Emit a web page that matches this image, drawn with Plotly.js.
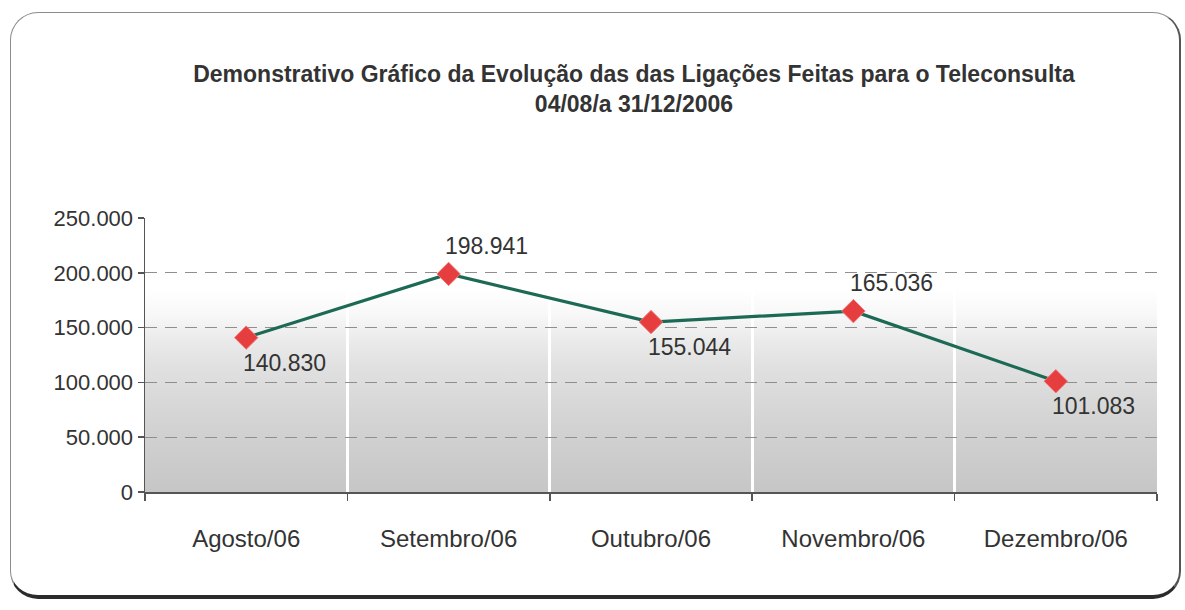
<!DOCTYPE html>
<html>
<head>
<meta charset="utf-8">
<script src="https://cdn.plot.ly/plotly-3.0.1.min.js"></script>
<style>
  html, body { margin: 0; padding: 0; background: #fff; }
  #page { position: relative; width: 1185px; height: 610px; overflow: hidden; }
  #frame {
    position: absolute; left: 10px; top: 12px; width: 1168px; height: 582px;
    border: 1.5px solid #8c8c8c; border-bottom: 4px solid #2b2b2b; border-right: 2px solid #555;
    border-radius: 28px; background: #fff;
  }
  #bg {
    position: absolute; left: 145px; top: 218px; width: 1012px; height: 274px;
    background: linear-gradient(to top, #c6c6c6 0%, #d3d3d3 25%, #e0e0e0 45%, #ebebeb 56%, #f7f7f7 64%, #ffffff 74%);
  }
  #chart { position: absolute; left: 0; top: 0; width: 1185px; height: 610px; }
</style>
</head>
<body>
<div id="page">
  <div id="frame"></div>
  <div id="bg"></div>
  <div id="chart"></div>
</div>
<script>
// meses e total de ligações
const months = ['Agosto/06', 'Setembro/06', 'Outubro/06', 'Novembro/06', 'Dezembro/06'];
const calls = [140830, 198941, 155044, 165036, 101083];
const labelSide = ['below', 'above', 'below', 'above', 'below'];
const gridVals = [50000, 100000, 150000, 200000];

const textFont = 'Liberation Sans, Arial, sans-serif';

const traces = [
  {
    type: 'scatter',
    mode: 'lines+markers',
    x: months,
    y: calls,
    line: { color: '#1c6a55', width: 3.2 },
    marker: { symbol: 'diamond', size: 18, color: '#e63d3f', line: { color: '#f27777', width: 1 } },
    cliponaxis: false,
    hoverinfo: 'x+y',
    showlegend: false
  },
  // eixo auxiliar só para as linhas tracejadas da grade
  { type: 'scatter', x: [], y: [], yaxis: 'y2', showlegend: false }
];

// rótulos de dados, deslocados como no Excel
const fmt = v => v.toString().replace(/\B(?=(\d{3})+(?!\d))/g, '.');
const annotations = months.map((m, i) => ({
  x: m,
  y: calls[i],
  xref: 'x',
  yref: 'y',
  text: fmt(calls[i]),
  showarrow: false,
  xshift: 38,
  yshift: labelSide[i] === 'above' ? 28 : -25,
  font: { family: textFont, size: 23, color: '#333' }
}));

const layout = {
  width: 1185,
  height: 610,
  paper_bgcolor: 'rgba(0,0,0,0)',
  plot_bgcolor: 'rgba(0,0,0,0)',
  separators: ',.',
  margin: { l: 145, r: 28, t: 218, b: 118 },
  font: { family: textFont, color: '#333' },
  title: {
    text: '<b>Demonstrativo Gráfico da Evolução das das Ligações Feitas para o Teleconsulta</b><br><b>04/08/a 31/12/2006</b>',
    font: { family: textFont, size: 23, color: '#333' },
    xref: 'container', x: 0.535, xanchor: 'center',
    yref: 'container', y: 0.865, yanchor: 'top'
  },
  annotations: annotations,
  xaxis: {
    type: 'category',
    range: [-0.5, 4.5],
    tickson: 'boundaries',
    ticks: 'outside', ticklen: 7, tickwidth: 1.5, tickcolor: '#555',
    showline: true, linecolor: '#555', linewidth: 1.5,
    showgrid: true, gridcolor: '#ffffff', gridwidth: 3,
    tickfont: { size: 24, color: '#333' },
    ticklabelstandoff: 25,
    fixedrange: true
  },
  yaxis: {
    range: [0, 250000],
    dtick: 50000,
    tickformat: ',d',
    ticks: 'outside', ticklen: 6, tickwidth: 1.5, tickcolor: '#555',
    showline: true, linecolor: '#555', linewidth: 1.5,
    showgrid: false, zeroline: false,
    tickfont: { size: 22, color: '#333' },
    fixedrange: true
  },
  yaxis2: {
    overlaying: 'y',
    range: [0, 250000],
    tickmode: 'array',
    tickvals: gridVals,
    showticklabels: false,
    showgrid: true, gridcolor: '#8f8f8f', gridwidth: 1, griddash: '12px,8px',
    zeroline: false, showline: false, ticks: '',
    fixedrange: true
  }
};

Plotly.newPlot('chart', traces, layout, { displayModeBar: false, staticPlot: true });
</script>
</body>
</html>
